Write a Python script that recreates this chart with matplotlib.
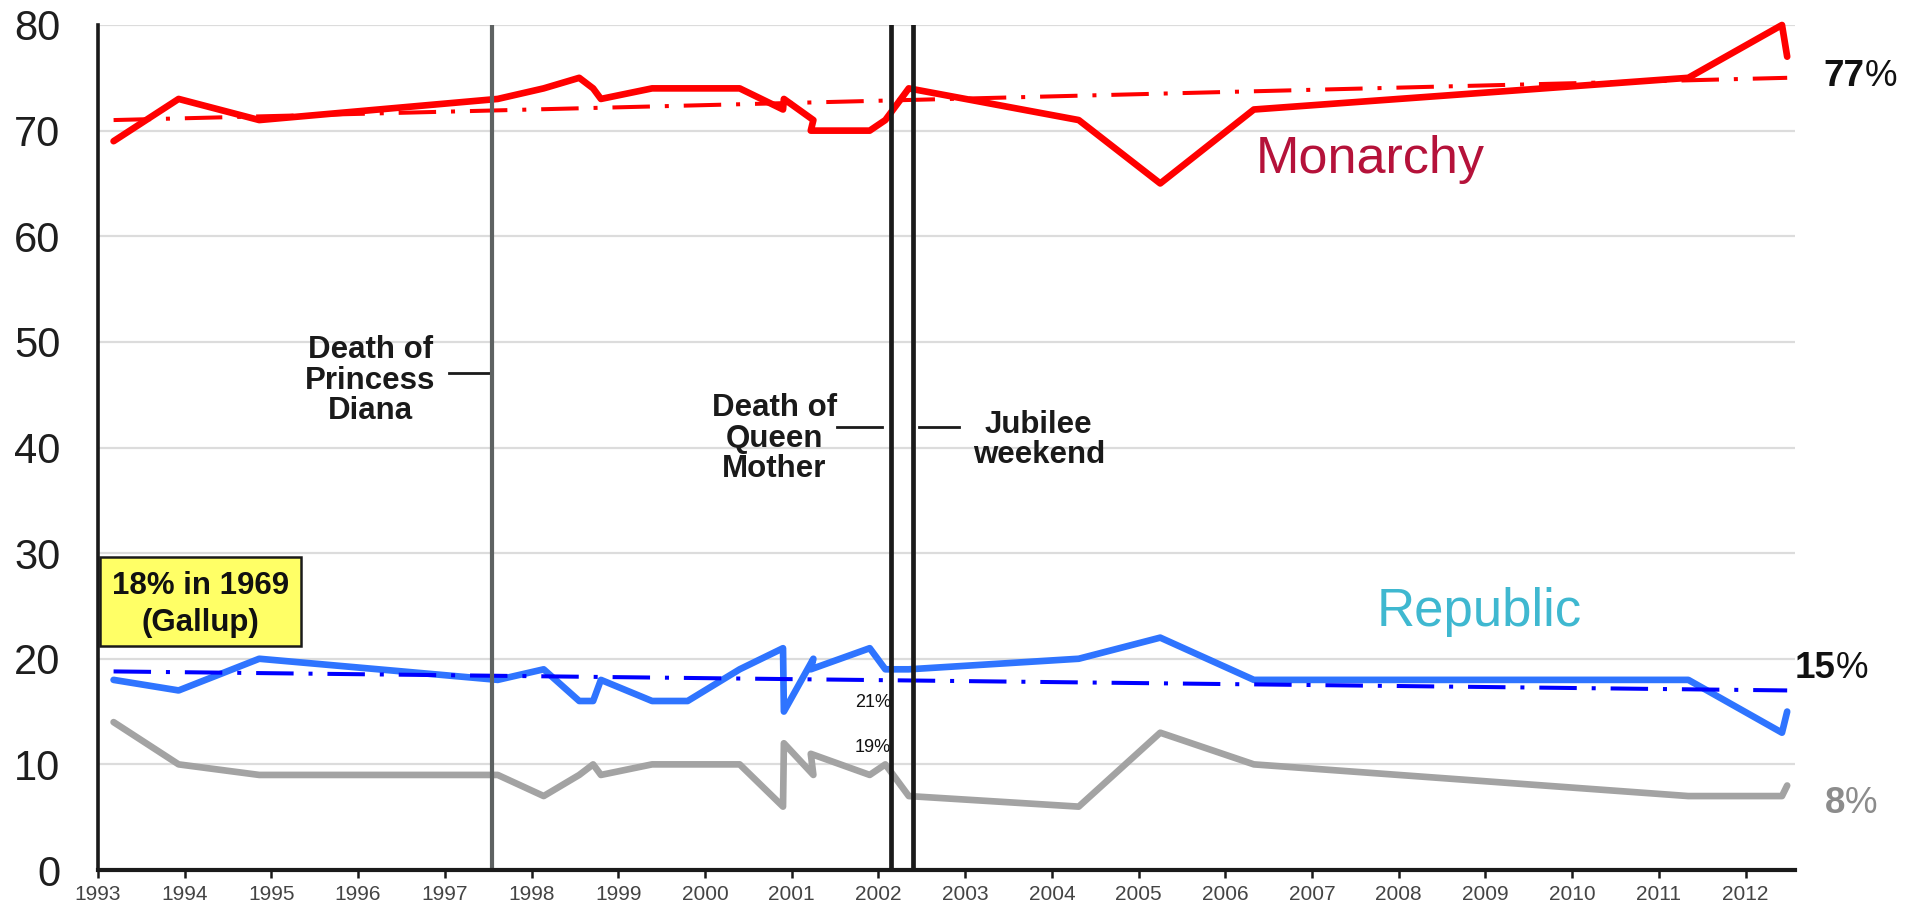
import numpy as np
import matplotlib
matplotlib.use("Agg")
from matplotlib import pyplot as plt
from matplotlib.patches import Rectangle

plt.rcParams['font.family'] = ['Liberation Sans', 'DejaVu Sans']

# poll dates (decimal years) shared by the three series
poll_dates = [1993.18, 1993.93, 1994.86, 1997.61, 1998.14, 1998.55, 1998.71,
              1998.80, 1999.39, 1999.80, 2000.40, 2000.90, 2000.91, 2001.25,
              2001.22, 2001.90, 2002.08, 2002.35, 2004.31, 2005.25, 2006.33,
              2011.34, 2012.42, 2012.48]
monarchy = [69, 73, 71, 73, 74, 75, 74, 73, 74, 74, 74, 72, 73, 71, 70, 70, 71,
            74, 71, 65, 72, 75, 80, 77]
republic = [18, 17, 20, 18, 19, 16, 16, 18, 16, 16, 19, 21, 15, 20, 19, 21, 19,
            19, 20, 22, 18, 18, 13, 15]
dont_know = [14, 10, 9, 9, 7, 9, 10, 9, 10, 10, 10, 6, 12, 9, 11, 9, 10, 7, 6,
             13, 10, 7, 7, 8]

# trend lines (start, end)
trend_x = [1993.18, 2012.48]
monarchy_trend = [71, 75]
republic_trend = [18.8, 17.0]

# events
diana_date = 1997.54
queen_mother_date = 2002.15
jubilee_date = 2002.40

years = list(range(1993, 2013))
y_ticks = list(range(0, 90, 10))

fig = plt.figure(figsize=(19.21, 9.09), dpi=100)
ax = fig.add_axes([0.051, 0.0429, 0.8834, 0.9296])
ax.set_xlim(1993, 2012.57)
ax.set_ylim(0, 80)

for v in y_ticks[1:]:
    ax.axhline(v, color='#dcdcdc', lw=1.6, zorder=0)

dashdot = (0, (9.3, 3.7, 1, 3.7))
ax.plot(trend_x, monarchy_trend, color='#ff0000', lw=2.9, ls=dashdot, zorder=3)
ax.plot(trend_x, republic_trend, color='#0000ff', lw=2.9, ls=dashdot, zorder=3)

kw = dict(lw=4.8, solid_joinstyle='round', solid_capstyle='round', clip_on=False)
ax.plot(poll_dates, dont_know, color='#a3a3a3', zorder=2, **kw)
ax.plot(poll_dates, republic, color='#2f74ff', zorder=2, **kw)
ax.plot(poll_dates, monarchy, color='#ff0000', zorder=2, **kw)

# event lines
ax.axvline(diana_date, color='#5e6262', lw=3.0, zorder=4, ymin=-0.003)
ax.axvline(queen_mother_date, color='#1a1a1a', lw=3.4, zorder=4)
ax.axvline(jubilee_date, color='#1a1a1a', lw=3.4, zorder=4)

ax.plot([1997.05, diana_date], [47.1, 47.1], color='#1a1a1a', lw=2)
ax.plot([2001.52, 2002.04], [41.9, 41.9], color='#1a1a1a', lw=2)
ax.plot([2002.47, 2002.93], [41.9, 41.9], color='#1a1a1a', lw=2)

lab = dict(fontsize=22.5, fontweight='bold', color='#1a1a1a', ha='center',
           va='center', linespacing=1.02)
ax.text(1996.14, 46.3, 'Death of\nPrincess\nDiana', **lab)
ax.text(2000.80, 40.85, 'Death of\nQueen\nMother', **lab)
ax.text(2003.85, 40.7, 'Jubilee\nweekend', **lab)

ax.text(2001.73, 15.9, '21%', fontsize=13, color='#111111', ha='left',
        va='center', zorder=1)
ax.text(2001.73, 11.6, '19%', fontsize=13, color='#111111', ha='left',
        va='center', zorder=1)

# series names
ax.text(2006.35, 67.3, 'Monarchy', fontsize=37.5, color='#b5123a', va='center')
ax.text(2007.74, 24.4, 'Republic', fontsize=38, color='#3fb8d0', va='center')


# end values: bold number followed by a regular percent sign
def end_label(x, y, num, color):
    t = ax.text(x, y, num, fontsize=26.5, fontweight='bold', color=color,
                va='center', clip_on=False)
    ax.annotate('%', xy=(1, 0.5), xycoords=t, fontsize=26.5, color=color,
                va='center', ha='left', annotation_clip=False)


end_label(2012.90, 75.1, '77', '#111111')
end_label(2012.57, 19.1, '15', '#111111')
end_label(2012.91, 6.3, '8', '#8c8c8c')

# yellow note
ax.add_patch(Rectangle((1993.02, 21.2), 2.32, 8.4, facecolor='#ffff66',
                       edgecolor='#1a1a1a', lw=1.8, zorder=5, clip_on=False))
ax.text(1994.18, 25.1, '18% in 1969\n(Gallup)', fontsize=22.5, fontweight='bold',
        color='#111111', ha='center', va='center', linespacing=1.3, zorder=6)

ax.set_xticks(years)
ax.set_xticklabels([str(y) for y in years])
ax.set_yticks(y_ticks)
ax.tick_params(axis='x', length=6, width=1.8, color='#1a1a1a', labelsize=15,
               labelcolor='#444444', pad=5)
ax.tick_params(axis='y', length=0, labelsize=30, labelcolor='#1e1e1e', pad=27)

for s in ['top', 'right']:
    ax.spines[s].set_visible(False)
ax.spines['left'].set_linewidth(2.6)
ax.spines['left'].set_color('#1a1a1a')
ax.spines['bottom'].set_linewidth(3)
ax.spines['bottom'].set_color('#1a1a1a')
ax.spines['bottom'].set_zorder(5)

fig.savefig('out.png', dpi=100)
